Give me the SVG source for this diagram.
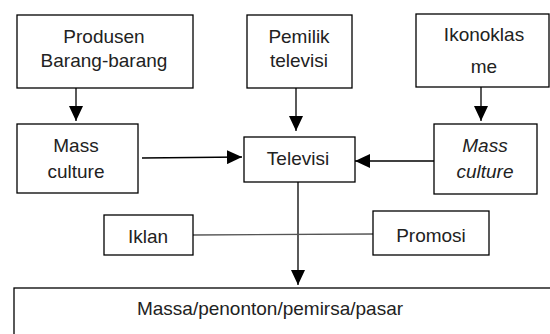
<svg xmlns="http://www.w3.org/2000/svg" width="550" height="334" viewBox="0 0 550 334">
<defs>
<style>
.box{fill:#fff;stroke:#000;stroke-width:1.3}
.t{font-family:"Liberation Sans",Arial,sans-serif;font-size:19px;fill:#222;text-anchor:middle}
.it{font-style:italic}
.c{stroke:#000;stroke-width:1.3;fill:none}
.g{stroke:#555;stroke-width:1.3;fill:none}
</style>
<marker id="ah" markerWidth="15" markerHeight="14" refX="15" refY="7" orient="auto" markerUnits="userSpaceOnUse">
<path d="M0,0 L15,7 L0,14 Z" fill="#000"/>
</marker>
</defs>
<rect width="550" height="334" fill="#fff"/>
<g id="connectors">
<line class="c" x1="76" y1="88" x2="76" y2="121" marker-end="url(#ah)"/>
<line class="c" x1="296" y1="88" x2="296" y2="131" marker-end="url(#ah)"/>
<line class="c" x1="481" y1="87" x2="481" y2="121" marker-end="url(#ah)"/>
<line class="c" x1="142" y1="158" x2="242" y2="157" marker-end="url(#ah)"/>
<line class="c" x1="434" y1="161" x2="355" y2="161" marker-end="url(#ah)"/>
<line class="c" x1="298" y1="182" x2="298" y2="285" marker-end="url(#ah)"/>
<line class="g" x1="193" y1="235" x2="373" y2="234"/>
</g>
<g id="produsen">
<rect class="box" x="17" y="15" width="176" height="73"/>
<text class="t" x="104" y="43">Produsen</text>
<text class="t" x="104" y="67">Barang-barang</text>
</g>
<g id="pemilik">
<rect class="box" x="247" y="15" width="105" height="73"/>
<text class="t" x="299" y="43">Pemilik</text>
<text class="t" x="299" y="67">televisi</text>
</g>
<g id="ikonoklasme">
<rect class="box" x="416" y="14" width="133" height="73"/>
<text class="t" x="484" y="41">Ikonoklas</text>
<text class="t" x="484" y="73">me</text>
</g>
<g id="mass-culture-left">
<rect class="box" x="17" y="124" width="121" height="69"/>
<text class="t" x="76" y="152">Mass</text>
<text class="t" x="76" y="178">culture</text>
</g>
<g id="televisi">
<rect class="box" x="244" y="137" width="111" height="45"/>
<text class="t" x="298" y="165">Televisi</text>
</g>
<g id="mass-culture-right">
<rect class="box" x="434" y="124" width="103" height="70"/>
<text class="t it" x="485" y="152">Mass</text>
<text class="t it" x="485" y="178">culture</text>
</g>
<g id="iklan">
<rect class="box" x="104" y="215" width="89" height="40"/>
<text class="t" x="148" y="243">Iklan</text>
</g>
<g id="promosi">
<rect class="box" x="373" y="211" width="116" height="44"/>
<text class="t" x="431" y="242">Promosi</text>
</g>
<g id="massa">
<rect class="box" x="14" y="288" width="540" height="50"/>
<text class="t" x="270" y="315">Massa/penonton/pemirsa/pasar</text>
</g>
</svg>
